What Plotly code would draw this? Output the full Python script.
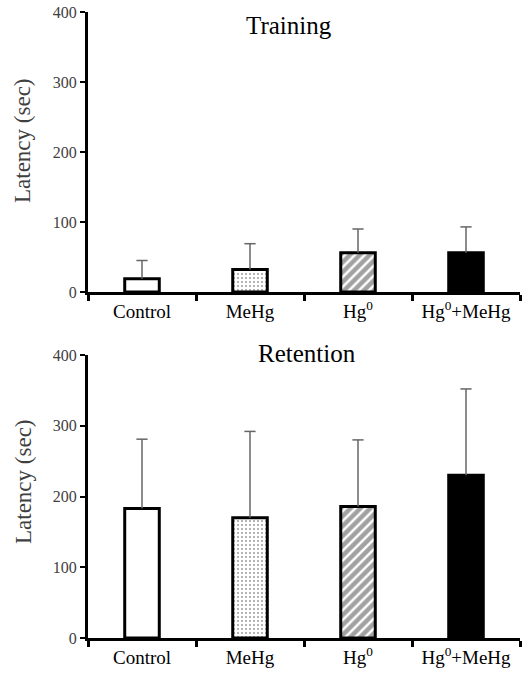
import plotly.graph_objects as go

categories = ["Control", "MeHg", "Hg<sup>0</sup>", "Hg<sup>0</sup>+MeHg"]
training_mean = [19, 32, 56, 56]
training_err = [26, 37, 34, 37]
retention_mean = [183, 170, 186, 230]
retention_err = [98, 122, 94, 122]
y_ticks = [0, 100, 200, 300, 400]
panel_titles = ["Training", "Retention"]
y_title = "Latency (sec)"

FONT = "Liberation Serif"
fills = ["white", "white", "white", "black"]
shapes = ["", ".", "/", ""]

fig = go.Figure()

def add_panel(means, errs, xa, ya):
    fig.add_trace(go.Bar(
        x=categories, y=means, xaxis=xa, yaxis=ya, width=0.32,
        marker=dict(
            color=fills,
            line=dict(color="black", width=3),
            pattern=dict(shape=shapes, fgcolor="black", bgcolor=fills,
                         size=[8, 4, 7, 8], solidity=[0.3, 0.22, 0.65, 0.3],
                         fillmode="overlay"),
        ),
        showlegend=False, hoverinfo="skip",
    ))
    tops = [m + e for m, e in zip(means, errs)]
    fig.add_trace(go.Scatter(
        x=categories, y=tops, xaxis=xa, yaxis=ya, mode="markers",
        marker=dict(symbol="line-ew-open", size=8, color="#666",
                    line=dict(color="#666", width=1.5)),
        error_y=dict(type="data", symmetric=False, array=[0] * len(errs),
                     arrayminus=errs, width=0, color="#666", thickness=1.5),
        showlegend=False, hoverinfo="skip",
    ))

add_panel(training_mean, training_err, "x", "y")
add_panel(retention_mean, retention_err, "x2", "y2")

W, H = 523, 674
xdom = [88 / W, 520 / W]
ydom_top = [1 - 292 / H, 1 - 12 / H]
ydom_bot = [1 - 638 / H, 1 - 355 / H]

xaxis_common = dict(
    domain=xdom, type="category", range=[-0.5, 3.5], automargin=False,
    showline=True, linecolor="black", linewidth=3,
    ticks="outside", tickson="boundaries", ticklen=6, tickwidth=3, tickcolor="black",
    tickfont=dict(family=FONT, size=19, color="black"),
    showgrid=False, zeroline=False, fixedrange=True,
)
yaxis_common = dict(
    range=[0, 400], tickvals=y_ticks, automargin=False,
    showline=True, linecolor="black", linewidth=3,
    ticks="outside", ticklen=5, tickwidth=2, tickcolor="black",
    tickfont=dict(family=FONT, size=16, color="#404040"),
    showgrid=False, zeroline=False, fixedrange=True,
)

def ann(text, x, y, size, color, angle=0):
    return dict(text=text, x=x / W, y=1 - y / H, xref="paper", yref="paper",
                showarrow=False, xanchor="center", yanchor="middle", textangle=angle,
                font=dict(family=FONT, size=size, color=color))

fig.update_layout(
    width=W, height=H,
    margin=dict(l=0, r=0, t=0, b=0),
    paper_bgcolor="white", plot_bgcolor="white",
    xaxis=dict(xaxis_common, anchor="y"),
    yaxis=dict(yaxis_common, domain=ydom_top, anchor="x"),
    xaxis2=dict(xaxis_common, anchor="y2"),
    yaxis2=dict(yaxis_common, domain=ydom_bot, anchor="x2"),
    annotations=[
        ann(panel_titles[0], 289, 25, 25, "black"),
        ann(panel_titles[1], 307, 353, 25, "black"),
        ann(y_title, 23, 141, 23, "#404040", -90),
        ann(y_title, 23, 482, 23, "#404040", -90),
    ],
)

fig.write_html("out.html")
